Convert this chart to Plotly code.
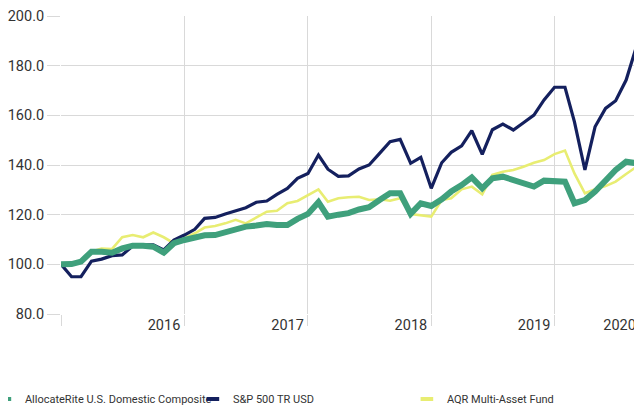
import pandas as pd
import plotly.graph_objects as go

# monthly growth of 100, Jan 2015 onwards
months = pd.date_range("2015-01-01", periods=58, freq="MS")

allocaterite = [100.0, 100.1, 101.1, 105.1, 105.1, 104.7, 106.4, 107.5, 107.5, 107.1,
                104.7, 108.5, 109.8, 110.9, 111.7, 111.8, 112.8, 114.1, 115.2, 115.6,
                116.2, 115.8, 115.8, 118.3, 120.3, 125.0, 119.2, 120.0, 120.6, 122.1,
                123.0, 125.9, 128.6, 128.6, 120.3, 124.6, 123.5, 126.2, 129.3, 131.9,
                135.0, 130.6, 134.6, 135.3, 134.0, 132.3, 131.3, 133.7, 133.3, 133.3,
                124.6, 125.9, 129.3, 134.0, 138.0, 141.3, 140.7, 139.3]

sp500 = [100.0, 95.0, 95.0, 101.3, 102.1, 103.5, 103.8, 107.4, 107.8, 107.8,
         105.8, 109.8, 111.8, 114.1, 118.5, 118.9, 120.3, 121.6, 122.8, 125.0,
         125.5, 128.2, 130.6, 134.6, 136.6, 144.0, 138.3, 135.4, 135.6, 138.4,
         140.0, 144.7, 149.4, 150.3, 140.7, 143.1, 130.6, 140.9, 145.1, 147.7,
         153.8, 144.3, 154.2, 156.5, 154.1, 157.0, 160.1, 166.2, 171.3, 171.3,
         157.4, 138.0, 155.4, 162.8, 165.9, 174.2, 187.9, 176.0]

aqr = [100.0, 100.4, 101.5, 105.1, 106.4, 106.2, 110.9, 111.8, 110.9, 112.8,
       110.9, 108.5, 110.5, 112.5, 114.8, 115.4, 116.5, 117.9, 116.5, 118.9,
       121.2, 121.6, 124.6, 125.5, 127.9, 130.2, 125.2, 126.6, 127.0, 127.2,
       125.9, 126.2, 125.6, 126.6, 120.3, 119.9, 119.2, 125.9, 126.6, 130.2,
       131.3, 128.2, 136.0, 137.3, 138.0, 139.3, 140.9, 142.0, 144.4, 145.8,
       136.6, 128.6, 130.2, 131.5, 133.3, 136.4, 139.3, 140.0]

series_names = ["AllocateRite U.S. Domestic Composite", "S&P 500 TR USD", "AQR Multi-Asset Fund"]
year_labels = ["2016", "2017", "2018", "2019", "2020"]

FONT = "Roboto, Liberation Sans, sans-serif"
GRID = "#d9d9d9"

x_start = pd.Timestamp("2015-01-01")
x_end = pd.Timestamp("2019-09-17")

# gridlines on year starts; each year label ends just left of its gridline,
# the last one is pulled back to the plot edge
grid_vals = pd.date_range("2015-01-01", "2019-01-01", freq="YS")
label_vals = [min(pd.Timestamp(f"{y}-01-01") - pd.Timedelta(days=12),
                  x_end - pd.Timedelta(days=18))
              for y in year_labels]


def add_series(fig, y, name, color, width, rank, entry_w):
    fig.add_trace(go.Scatter(x=months, y=y, name=name, mode="lines",
                             line=dict(color=color, width=width),
                             showlegend=False))
    # legend entry: short thick dash instead of the long legend line
    fig.add_trace(go.Scatter(x=[None], y=[None], name=name, mode="markers",
                             marker=dict(symbol="line-ew", size=9, color=color,
                                         line=dict(width=4, color=color)),
                             legendrank=rank, legendwidth=entry_w))


fig = go.Figure()
# draw order: yellow under navy under green
add_series(fig, aqr, series_names[2], "#e8ed72", 2.6, 3, 110)
add_series(fig, sp500, series_names[1], "#14205e", 3.2, 2, 169)
add_series(fig, allocaterite, series_names[0], "#3fa07c", 6, 1, 163)

# the page body has an 8px margin, so the figure is sized to fit inside the window
fig.update_layout(
    width=634, height=399,
    margin=dict(l=53, r=0, t=8, b=93, autoexpand=False),
    paper_bgcolor="white", plot_bgcolor="white",
    font=dict(family=FONT, size=14.5, color="#333333"),
    showlegend=True,
    legend=dict(orientation="h", x=-0.131, xanchor="left", y=-0.2855, yanchor="middle",
                font=dict(family=FONT, size=11, color="#333333"),
                bgcolor="rgba(0,0,0,0)"),
)

fig.update_xaxes(
    type="date", range=[x_start - pd.Timedelta(hours=6), x_end],
    tickmode="array", tickvals=label_vals, ticktext=year_labels,
    ticks="", showgrid=False, ticklabelposition="outside left",
    showline=False, zeroline=False,
    minor=dict(tickmode="array", tickvals=list(grid_vals), showgrid=True,
               gridcolor=GRID, gridwidth=1, ticks="outside", ticklen=11,
               tickcolor=GRID, tickwidth=1),
)

fig.update_yaxes(
    range=[80, 200], tickmode="linear", tick0=80, dtick=20, tickformat=".1f",
    showgrid=True, gridcolor=GRID, gridwidth=1,
    ticks="outside", ticklen=13, tickcolor=GRID, tickwidth=1,
    showline=False, zeroline=False,
)

fig.write_html("out.html")
